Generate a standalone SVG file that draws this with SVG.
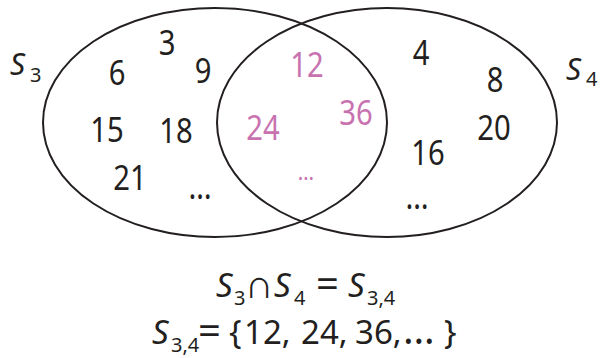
<svg xmlns="http://www.w3.org/2000/svg" width="603" height="358" viewBox="0 0 603 358">
<style>
.e{fill:none;stroke:#231f20;stroke-width:2}
text{font-family:"Noto Sans","Open Sans",sans-serif;fill:#231f20}
.n{font-size:34px;text-anchor:middle;transform:scaleX(.86);transform-box:fill-box;transform-origin:center}
.p{fill:#c872b0}
.i{font-style:italic}
.sub{font-size:20px;font-style:normal}
.eq{font-size:33px}
.big{font-size:40px}
</style>
<rect width="603" height="358" fill="#fff"/>
<g id="connectors"></g>
<g id="S3">
<ellipse class="e" cx="215" cy="122.5" rx="172" ry="114.5"/>
<text x="10" y="75" font-size="30" class="i">S<tspan class="sub" x="30" y="82">3</tspan></text>
<text class="n" x="167" y="55">3</text>
<text class="n" x="117" y="85">6</text>
<text class="n" x="203" y="83">9</text>
<text class="n" x="107" y="142">15</text>
<text class="n" x="176" y="143">18</text>
<text class="n" x="130" y="190">21</text>
<text class="n" x="200" y="199">…</text>
</g>
<g id="S4">
<ellipse class="e" cx="387" cy="122.5" rx="170" ry="114.5"/>
<text x="566" y="80" font-size="30" class="i">S<tspan class="sub" x="586" y="86">4</tspan></text>
<text class="n" x="421" y="65">4</text>
<text class="n" x="495" y="92">8</text>
<text class="n" x="494" y="140">20</text>
<text class="n" x="428" y="165">16</text>
<text class="n" x="417" y="209">…</text>
</g>
<g id="intersection">
<text class="n p" x="307" y="77">12</text>
<text class="n p" x="263" y="140">24</text>
<text class="n p" x="356" y="125">36</text>
<text class="n p" x="306" y="180" style="font-size:24px">…</text>
</g>
<g id="equations">
<text class="eq" y="297"><tspan class="i" x="216">S</tspan><tspan class="sub" x="234" y="305">3</tspan><tspan class="big" x="245" y="298">∩</tspan><tspan class="i" x="274" y="297">S</tspan><tspan class="sub" x="294" y="305">4</tspan><tspan class="big" x="316" y="298">=</tspan><tspan class="i" x="348" y="297">S</tspan><tspan class="sub" x="367" y="305">3,4</tspan></text>
<text class="eq" y="344"><tspan class="i" x="152">S</tspan><tspan class="sub" x="171" y="352">3,4</tspan><tspan class="big" x="198" y="345">=</tspan><tspan x="229" y="344">{</tspan><tspan x="244">12,</tspan><tspan x="301">24,</tspan><tspan x="355">36,</tspan><tspan x="403" style="font-size:40px">…</tspan><tspan x="444">}</tspan></text>
</g>
</svg>
